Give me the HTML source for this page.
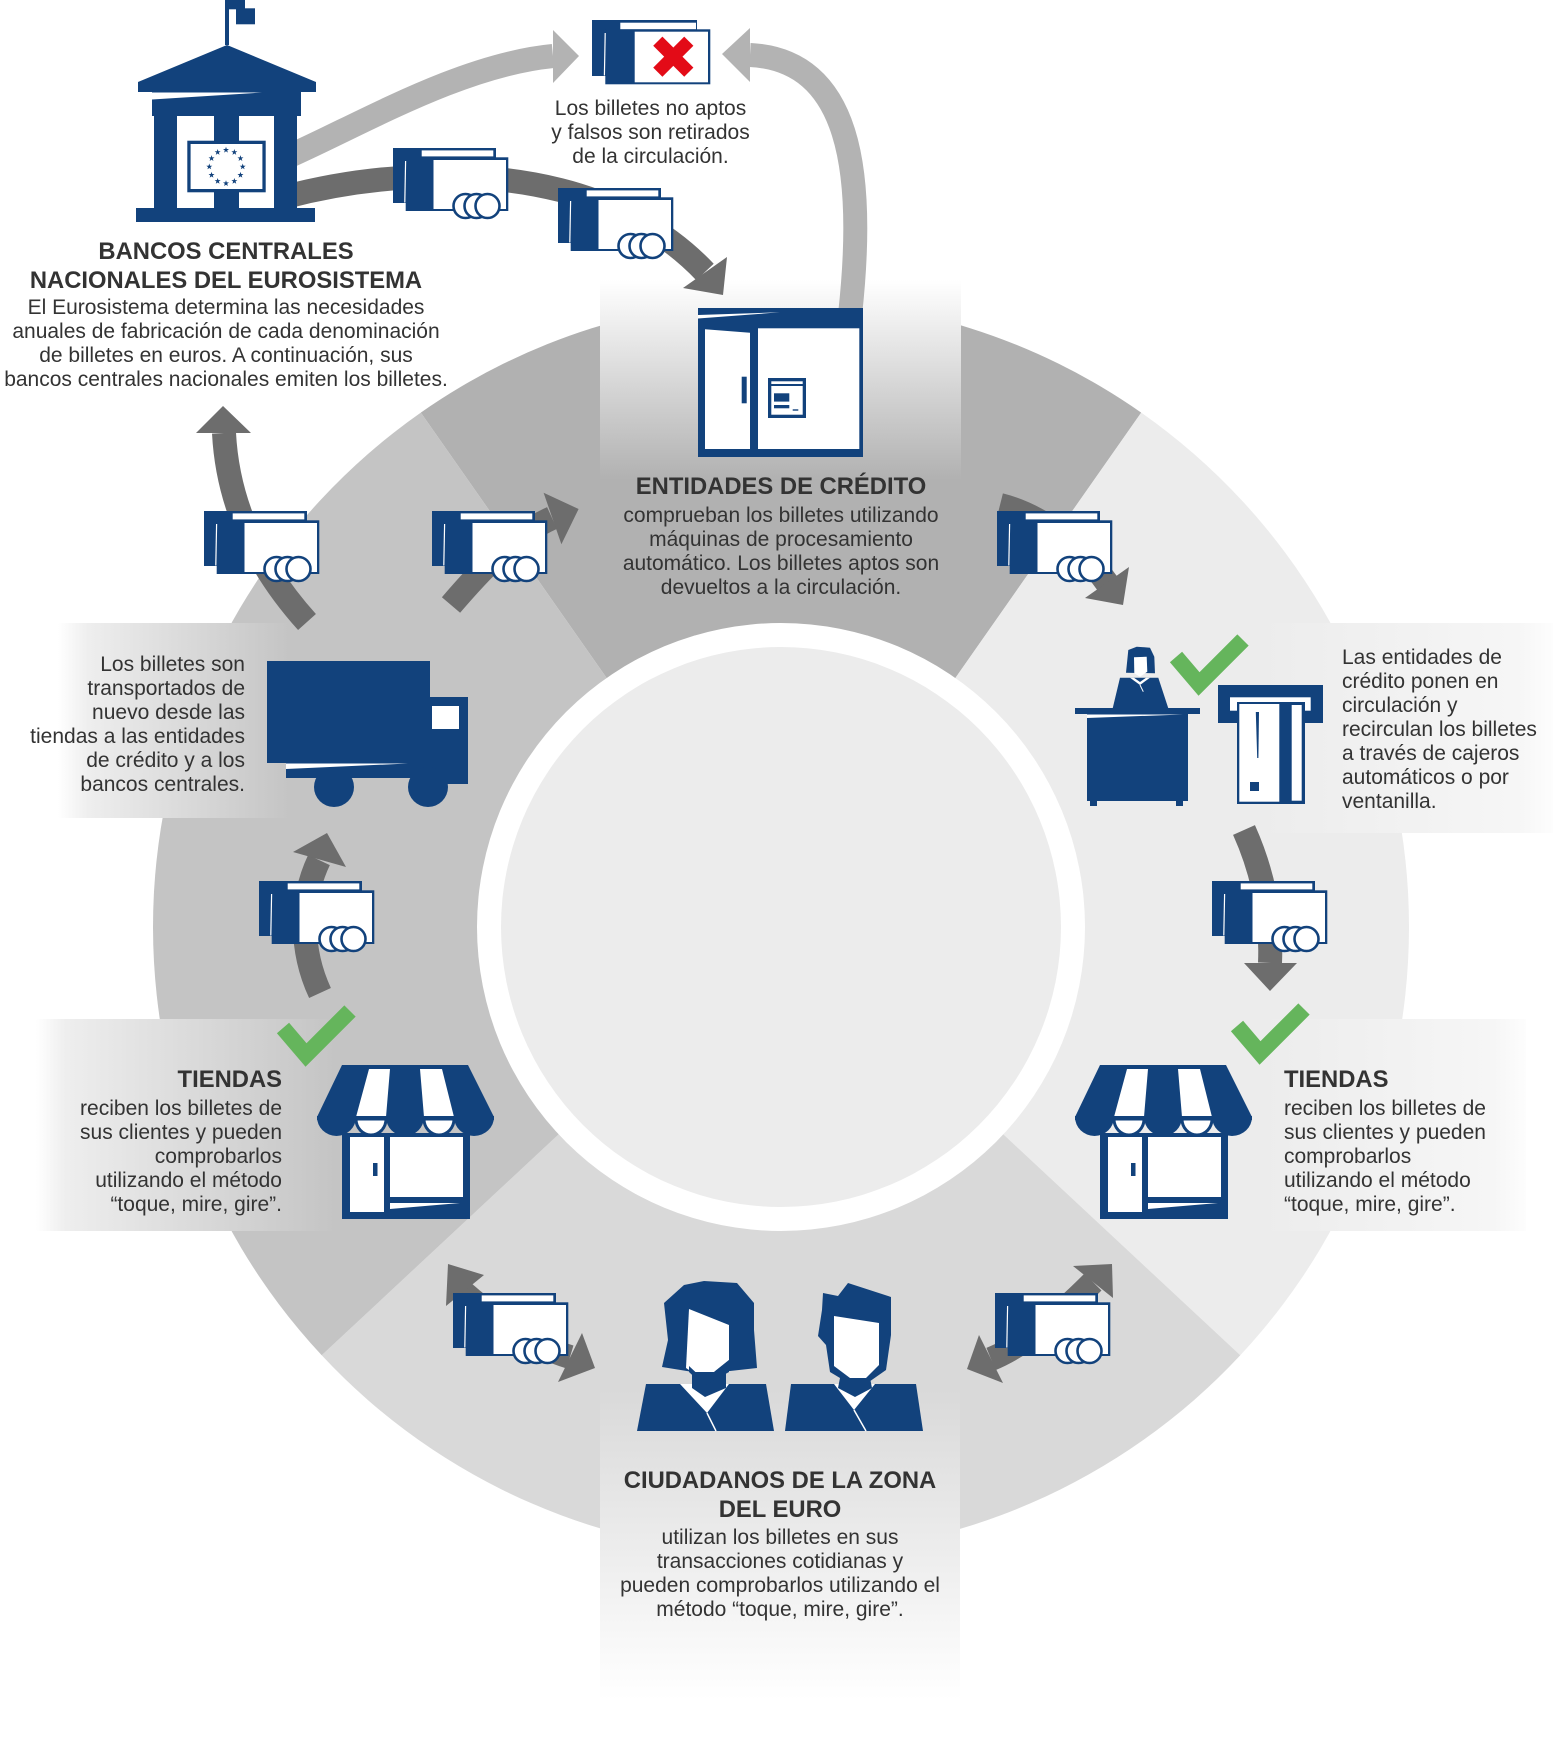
<!DOCTYPE html>
<html><head><meta charset="utf-8"><style>
html,body{margin:0;padding:0;background:#fff;}
#c{position:relative;width:1559px;height:1746px;overflow:hidden;background:#fff;}
svg{position:absolute;left:0;top:0;}
.t{position:absolute;font-family:"Liberation Sans",Arial,Helvetica,sans-serif;color:#333;font-size:21px;line-height:24px;white-space:nowrap;}
.h{font-weight:bold;font-size:23.8px;line-height:28.5px;}
.c{text-align:center}.r{text-align:right}
</style></head><body><div id="c">
<svg width="1559" height="1746" viewBox="0 0 1559 1746">
<defs>
<linearGradient id="gTop" x1="0" y1="0" x2="0" y2="1"><stop offset="0" stop-color="#ffffff"/><stop offset="1" stop-color="#b1b1b1"/></linearGradient>
<linearGradient id="gBot" x1="0" y1="0" x2="0" y2="1"><stop offset="0" stop-color="#d9d9d9"/><stop offset="1" stop-color="#ffffff"/></linearGradient>
<linearGradient id="gL" x1="0" y1="0" x2="1" y2="0"><stop offset="0" stop-color="#ffffff"/><stop offset="0.13" stop-color="#eeeeee"/><stop offset="1" stop-color="#c4c4c4"/></linearGradient>
<linearGradient id="gL2" x1="0" y1="0" x2="1" y2="0"><stop offset="0" stop-color="#ffffff"/><stop offset="0.1" stop-color="#eeeeee"/><stop offset="1" stop-color="#c4c4c4"/></linearGradient>
<linearGradient id="gR" x1="0" y1="0" x2="1" y2="0"><stop offset="0" stop-color="#ececec"/><stop offset="0.88" stop-color="#f6f6f6"/><stop offset="1" stop-color="#fdfdfd"/></linearGradient>
<g id="m">
<rect x="0" y="0" width="103" height="55" fill="#12427c"/>
<rect x="28.7" y="2.4" width="71.6" height="6" fill="#fff"/>
<rect x="12.7" y="9.3" width="102.6" height="53.7" fill="#12427c"/>
<rect x="40.5" y="12" width="72.5" height="49" fill="#fff"/>
<line x1="12.6" y1="13" x2="11.8" y2="54.5" stroke="#fff" stroke-width="1.2"/>
<circle cx="72.5" cy="58" r="12" fill="#fff" stroke="#12427c" stroke-width="2.6"/>
<circle cx="83.5" cy="58" r="12" fill="#fff" stroke="#12427c" stroke-width="2.6"/>
<circle cx="94.5" cy="58" r="12" fill="#fff" stroke="#12427c" stroke-width="2.6"/>
</g>
<polygon id="st" points="0,-3.2 0.75,-1 3,-1 1.2,0.4 1.9,2.6 0,1.3 -1.9,2.6 -1.2,0.4 -3,-1 -0.75,-1" fill="#12427c"/>
<g id="store">
<rect x="342" y="1133" width="128" height="86" fill="#12427c"/>
<rect x="350" y="1137" width="34" height="75" fill="#fff"/>
<rect x="390" y="1137" width="73" height="60" fill="#fff"/>
<polygon points="390,1203 460,1203 390,1209" fill="#fff"/>
<rect x="373" y="1163" width="4.5" height="13" fill="#12427c"/>
<polygon points="342,1065 468,1065 494,1117 317,1117" fill="#12427c"/>
<polygon points="369,1069 390,1069 386,1117 356,1117" fill="#fff"/>
<polygon points="420,1069 442,1069 454,1117 424,1117" fill="#fff"/>
<rect x="317" y="1116" width="177" height="4" fill="#12427c"/>
<path d="M317,1117 A19.5,19 0 0 0 356,1117 Z" fill="#12427c"/>
<path d="M356,1119 A15,16 0 0 0 386,1119 Z" fill="#fff" stroke="#12427c" stroke-width="3"/>
<path d="M386,1117 A19,19 0 0 0 424,1117 Z" fill="#12427c"/>
<path d="M424,1119 A15,16 0 0 0 454,1119 Z" fill="#fff" stroke="#12427c" stroke-width="3"/>
<path d="M454,1117 A20,19 0 0 0 494,1117 Z" fill="#12427c"/>
</g>
</defs>

<!-- ring -->
<path d="M781,927 L420.8,412.6 A628,628 0 0,1 1141.2,412.6 Z" fill="#b1b1b1"/>
<path d="M781,927 L1141.2,412.6 A628,628 0 0,1 1240.3,1355.3 Z" fill="#ececec"/>
<path d="M781,927 L1240.3,1355.3 A628,628 0 0,1 321.7,1355.3 Z" fill="#d9d9d9"/>
<path d="M781,927 L321.7,1355.3 A628,628 0 0,1 420.8,412.6 Z" fill="#c4c4c4"/>
<circle cx="781" cy="927" r="304" fill="#fff"/>
<circle cx="781" cy="927" r="280" fill="#ececec"/>

<!-- panels -->
<rect x="600" y="280" width="361" height="200" fill="url(#gTop)"/>
<rect x="600" y="1390" width="360" height="310" fill="url(#gBot)"/>
<rect x="58" y="623" width="232" height="195" fill="url(#gL)"/>
<rect x="36" y="1019" width="300" height="212" fill="url(#gL2)"/>
<rect x="1257" y="623" width="296" height="210" fill="url(#gR)"/>
<rect x="1258" y="1019" width="268" height="212" fill="url(#gR)"/>

<!-- arrows light -->
<g fill="none" stroke="#b3b3b3" stroke-width="24">
<path d="M285,158 C360,125 460,65 553,56"/>
<path d="M850,315 C866,170 850,60 750,55"/>
</g>
<polygon points="553,30 579,56 553,83" fill="#b3b3b3"/>
<polygon points="750,28 722,54 750,82" fill="#b3b3b3"/>

<!-- arrows dark -->
<g fill="none" stroke="#6d6d6d" stroke-width="24">
<path d="M285,197 C380,172 480,170 560,190 C620,205 670,235 705,272"/>
<path d="M307,622 C262,572 228,510 224,433"/>
<path d="M451,605 C475,577 510,537 552,518"/>
<path d="M1000,505 C1040,515 1080,545 1107,583"/>
<path d="M1244,830 C1262,870 1272,915 1270,963"/>
<path d="M320,993 C300,950 300,900 319,860"/>
<path d="M462,1291 C495,1320 530,1345 570,1357"/>
<path d="M991,1359 C1025,1345 1060,1315 1093,1282"/>
</g>
<g fill="#6d6d6d">
<polygon points="683,288 727,257 723,295"/>
<polygon points="196,433 223,406 251,433"/>
<polygon points="543.6,492.7 578.6,509 561.4,544.3"/>
<polygon points="1085,598 1129,567 1123,605"/>
<polygon points="1244,963 1297,963 1270,991"/>
<polygon points="293,852 327,833 346,867"/>
<polygon points="446,1306 448,1264 484,1275"/>
<polygon points="582,1333 595,1368 558,1382"/>
<polygon points="1073,1266 1112,1264 1113,1298"/>
<polygon points="979,1335 967,1369 1003,1383"/>
</g>

<!-- building -->
<g fill="#12427c">
<rect x="225" y="0" width="4" height="45"/>
<rect x="229" y="0" width="16" height="9.3"/>
<rect x="236" y="8.3" width="19" height="16"/>
<polygon points="138,82 227,45 316,82 316,92 138,92"/>
<rect x="152" y="92" width="149" height="24"/>
<rect x="154" y="116" width="143" height="92"/>
<rect x="136" y="208" width="179" height="14"/>
</g>
<polygon points="152,92.5 262,92.5 152,99.5" fill="#fff"/>
<rect x="177" y="116" width="37" height="92" fill="#fff"/>
<rect x="239" y="116" width="35" height="92" fill="#fff"/>
<rect x="187.3" y="140.7" width="78.4" height="51.6" fill="#12427c"/>
<rect x="190.6" y="144" width="71.8" height="45" fill="#fff"/>
<use href="#st" x="226" y="150"/>
<use href="#st" x="234.35" y="152.24"/>
<use href="#st" x="240.46" y="158.35"/>
<use href="#st" x="242.7" y="166.7"/>
<use href="#st" x="240.46" y="175.05"/>
<use href="#st" x="234.35" y="181.16"/>
<use href="#st" x="226" y="183.4"/>
<use href="#st" x="217.65" y="181.16"/>
<use href="#st" x="211.54" y="175.05"/>
<use href="#st" x="209.3" y="166.7"/>
<use href="#st" x="211.54" y="158.35"/>
<use href="#st" x="217.65" y="152.24"/>

<!-- X card -->
<g transform="translate(592,20)">
<rect x="0" y="0" width="105" height="56" fill="#12427c"/>
<rect x="28.3" y="2.7" width="75.7" height="6.6" fill="#fff"/>
<rect x="13.3" y="9.3" width="105" height="55" fill="#12427c"/>
<rect x="42.7" y="11.7" width="73.3" height="50.6" fill="#fff"/>
<line x1="13.2" y1="13" x2="12.4" y2="55.5" stroke="#fff" stroke-width="1.2"/>
</g>
<g stroke="#e30b17" stroke-width="13">
<line x1="657.8" y1="41.2" x2="688.8" y2="72.2"/>
<line x1="688.8" y1="41.2" x2="657.8" y2="72.2"/>
</g>

<!-- money icons -->
<use href="#m" x="393" y="148"/>
<use href="#m" x="558" y="188"/>
<use href="#m" x="204" y="511"/>
<use href="#m" x="432" y="511"/>
<use href="#m" x="997" y="511"/>
<use href="#m" x="1212" y="881"/>
<use href="#m" x="259" y="881"/>
<use href="#m" x="453" y="1293"/>
<use href="#m" x="995" y="1293"/>

<!-- credit machine -->
<rect x="698" y="308" width="165" height="149" fill="#12427c"/>
<polygon points="698,315 780,312.3 698,318.5" fill="#fff"/>
<polygon points="705,329.3 750,332.7 750,449 705,449" fill="#fff"/>
<rect x="758" y="328.3" width="101.3" height="120.7" fill="#fff"/>
<rect x="741.7" y="376.7" width="5" height="26.6" fill="#12427c"/>
<rect x="768" y="378" width="38" height="40" fill="#12427c"/>
<rect x="771.3" y="381.3" width="31.4" height="33.4" fill="#fff"/>
<rect x="771" y="384" width="32" height="2" fill="#12427c"/>
<rect x="774" y="393.3" width="15.3" height="8.3" fill="#12427c"/>
<rect x="774" y="405" width="15.3" height="3.3" fill="#12427c"/>
<rect x="792.7" y="409.3" width="5.6" height="1.4" fill="#12427c"/>

<!-- truck -->
<g fill="#12427c">
<rect x="267" y="661" width="163" height="102"/>
<rect x="430" y="697" width="38" height="87"/>
<rect x="286" y="763" width="182" height="15"/>
<circle cx="334" cy="787" r="20"/>
<circle cx="428" cy="787" r="20"/>
</g>
<rect x="432" y="706" width="27" height="23" fill="#fff"/>
<polygon points="286,763.5 408,763.5 286,769" fill="#fff"/>

<!-- desk + person -->
<g fill="#12427c">
<rect x="1075" y="708" width="125" height="6"/>
<rect x="1087" y="714" width="101" height="87"/>
<rect x="1090" y="801" width="7" height="5"/>
<rect x="1176" y="801" width="7" height="5"/>
<polygon points="1120,677.7 1158.3,677.7 1168.3,708.3 1112.7,708.3"/>
<polygon points="1128.3,650 1136.7,646.7 1150,647.7 1154.3,656.7 1155,673.3 1126,672.7 1127.3,660"/>
</g>
<polygon points="1087,714.5 1183,714.5 1087,718" fill="#fff"/>
<polygon points="1134,657.3 1146.7,656.7 1147.3,671.7 1140,676.7 1134.3,673.3" fill="#fff"/>
<polygon points="1130,677.7 1140,685 1150,677.7 1146,677.7 1140,682 1134,677.7" fill="#fff"/>
<line x1="1140" y1="685" x2="1143.3" y2="691.7" stroke="#fff" stroke-width="1"/>

<!-- ATM -->
<rect x="1218" y="685" width="105" height="38" fill="#12427c"/>
<rect x="1230" y="697.3" width="80.7" height="13.4" fill="#fff"/>
<rect x="1237" y="702" width="68" height="102" fill="#12427c"/>
<rect x="1239.3" y="704" width="40" height="97.7" fill="#fff"/>
<rect x="1291.7" y="705" width="10" height="95.7" fill="#fff"/>
<polygon points="1255.8,712 1259,712 1258.4,758 1257.2,758" fill="#12427c"/>
<rect x="1250" y="782" width="9" height="9" fill="#12427c"/>

<!-- checks -->
<g fill="none" stroke="#65b55c" stroke-width="16">
<polyline points="1176,657 1199,684 1243,640"/>
<polyline points="283,1028 306,1055 350,1011"/>
<polyline points="1237,1026 1260,1053 1304,1009"/>
</g>

<!-- stores -->
<use href="#store"/>
<use href="#store" transform="translate(758,0)"/>

<!-- people -->
<g fill="#12427c">
<polygon points="664,1303 684,1285 704,1281 737,1283 754,1303 754,1330 757,1368 730,1371 693,1372 662,1367 668,1340"/>
<polygon points="646,1384 766,1384 774,1431 637,1431"/>
<polygon points="823,1293 838,1296 848,1283 891,1297 891,1335 886,1370 866,1384 850,1384 830,1372 826,1345 818,1336 822,1310"/>
<polygon points="791,1384 916,1384 923,1431 785,1431"/>
</g>
<polygon points="689,1309 729,1325 729,1360 704,1380 686,1368" fill="#fff"/>
<polygon points="680,1384 729,1384 707,1413" fill="#fff"/>
<polygon points="692,1372 726,1372 726,1388 705,1397 692,1388" fill="#12427c"/>
<polygon points="704,1380 729,1360 729,1372 704,1386 689,1372 689,1366" fill="#12427c"/>
<line x1="707" y1="1413" x2="716" y2="1431" stroke="#fff" stroke-width="1.5"/>
<polygon points="834,1316 879,1323 879,1365 866,1378 850,1378 834,1366" fill="#fff"/>
<polygon points="834,1384 875,1384 854,1410" fill="#fff"/>
<polygon points="840,1378 870,1378 872,1388 855,1397 838,1388" fill="#12427c"/>
<line x1="854" y1="1410" x2="866" y2="1431" stroke="#fff" stroke-width="1.5"/>
</svg>

<div class="t h c" style="left:0;width:452px;top:238px">BANCOS CENTRALES<br>NACIONALES DEL EUROSISTEMA</div>
<div class="t c" style="left:0;width:452px;top:296px">El Eurosistema determina las necesidades<br>anuales de fabricación de cada denominación<br>de billetes en euros. A continuación, sus<br>bancos centrales nacionales emiten los billetes.</div>
<div class="t c" style="left:500px;width:301px;top:97px">Los billetes no aptos<br>y falsos son retirados<br>de la circulación.</div>
<div class="t h c" style="left:581px;width:400px;top:473px">ENTIDADES DE CRÉDITO</div>
<div class="t c" style="left:581px;width:400px;top:504px">comprueban los billetes utilizando<br>máquinas de procesamiento<br>automático. Los billetes aptos son<br>devueltos a la circulación.</div>
<div class="t" style="left:1342px;top:646px">Las entidades de<br>crédito ponen en<br>circulación y<br>recirculan los billetes<br>a través de cajeros<br>automáticos o por<br>ventanilla.</div>
<div class="t r" style="left:0;width:245px;top:653px">Los billetes son<br>transportados de<br>nuevo desde las<br>tiendas a las entidades<br>de crédito y a los<br>bancos centrales.</div>
<div class="t h r" style="left:0;width:282px;top:1066px">TIENDAS</div>
<div class="t r" style="left:0;width:282px;top:1097px">reciben los billetes de<br>sus clientes y pueden<br>comprobarlos<br>utilizando el método<br>“toque, mire, gire”.</div>
<div class="t h" style="left:1284px;top:1066px">TIENDAS</div>
<div class="t" style="left:1284px;top:1097px">reciben los billetes de<br>sus clientes y pueden<br>comprobarlos<br>utilizando el método<br>“toque, mire, gire”.</div>
<div class="t h c" style="left:580px;width:400px;top:1467px">CIUDADANOS DE LA ZONA<br>DEL EURO</div>
<div class="t c" style="left:580px;width:400px;top:1526px">utilizan los billetes en sus<br>transacciones cotidianas y<br>pueden comprobarlos utilizando el<br>método “toque, mire, gire”.</div>
</div></body></html>
